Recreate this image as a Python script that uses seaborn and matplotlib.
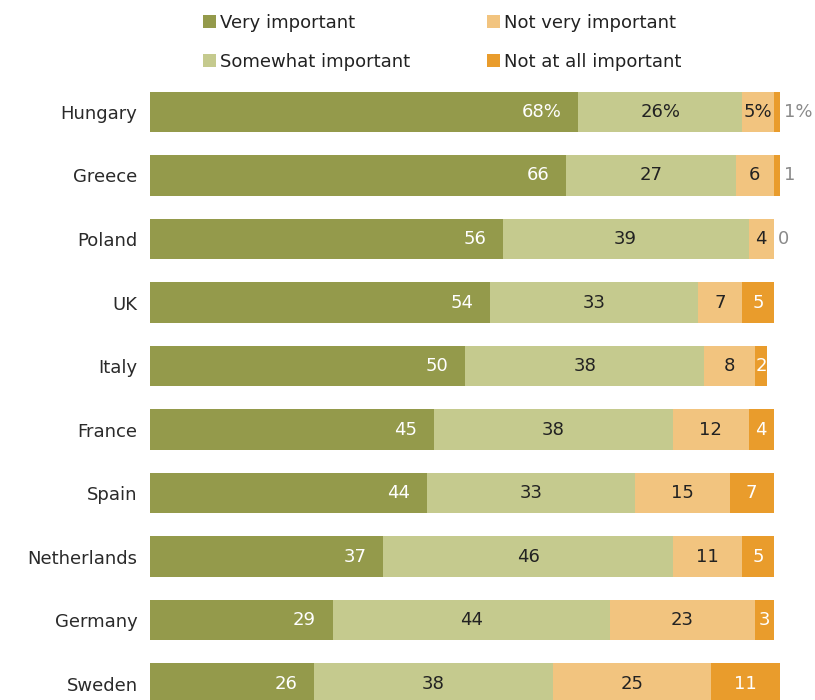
import numpy as np
import pandas as pd
import matplotlib
matplotlib.use("Agg")
import matplotlib.pyplot as plt
from matplotlib.patches import Patch
import seaborn as sns

# Survey shares (%) by country
countries = ["Hungary", "Greece", "Poland", "UK", "Italy", "France",
             "Spain", "Netherlands", "Germany", "Sweden"]
very = [68, 66, 56, 54, 50, 45, 44, 37, 29, 26]
somewhat = [26, 27, 39, 33, 38, 38, 33, 46, 44, 38]
not_very = [5, 6, 4, 7, 8, 12, 15, 11, 23, 25]
not_at_all = [1, 1, 0, 5, 2, 4, 7, 5, 3, 11]

categories = ["Very important", "Somewhat important",
              "Not very important", "Not at all important"]
colors = ["#949A4B", "#C5CA8E", "#F2C47F", "#E99C2C"]

sns.set_theme(style="white")
plt.rcParams["font.family"] = ["DejaVu Sans"]

df = pd.DataFrame({"country": countries, "very": very, "somewhat": somewhat,
                   "not_very": not_very, "not_at_all": not_at_all})
series = ["very", "somewhat", "not_very", "not_at_all"]
cum = df[series].cumsum(axis=1)

fig = plt.figure(figsize=(8.15, 7.0), dpi=100)
ax = fig.add_axes([150 / 815, 0, 630 / 815, 1])

# Stacked bars: draw cumulative totals from the widest layer down
for k in range(len(series) - 1, -1, -1):
    sns.barplot(x=cum[series[k]], y=df["country"], orient="h", color=colors[k],
                saturation=1, width=0.63, linewidth=0, ax=ax)

ax.set_xlim(0, 100)
ax.set_ylim((700 - 112) / 63.5, -112 / 63.5)
ax.set_xlabel("")
ax.set_ylabel("")
ax.set_xticks([])
sns.despine(ax=ax, left=True, bottom=True)
ax.tick_params(axis="y", length=0, pad=9, labelsize=13, labelcolor="#2a2a2a")

fs = 13
for i in range(len(df)):
    pct = "%" if i == 0 else ""
    # Very important: white, right-aligned inside the bar end
    ax.annotate(f"{very[i]}{pct}", (very[i], i), xytext=(-12, 0),
                textcoords="offset points", ha="right", va="center",
                color="white", fontsize=fs)
    start = very[i]
    for vals in (somewhat, not_very):
        v = vals[i]
        ax.annotate(f"{v}{pct}", (start + v / 2, i), ha="center", va="center",
                    color="#222222", fontsize=fs)
        start += v
    v = not_at_all[i]
    if v <= 1:
        # Tiny shares are labelled just outside the bar in grey
        ax.annotate(f"{v}{pct}", (start + v, i), xytext=(3, 0),
                    textcoords="offset points", ha="left", va="center",
                    color="#8a8a8a", fontsize=fs, annotation_clip=False)
    else:
        ax.annotate(f"{v}", (start + v / 2, i), ha="center", va="center",
                    color="white", fontsize=fs)

handles = [Patch(facecolor=c, edgecolor="none") for c in colors]
fig.legend(handles, categories, loc="upper left",
           bbox_to_anchor=(194 / 815, 1 - 5 / 700), ncol=2, frameon=False,
           fontsize=fs, handlelength=0.7, handleheight=0.7, handletextpad=0.25,
           labelspacing=1.16, columnspacing=4.25, borderpad=0,
           labelcolor="#222222")

fig.savefig("out.png", dpi=100)
